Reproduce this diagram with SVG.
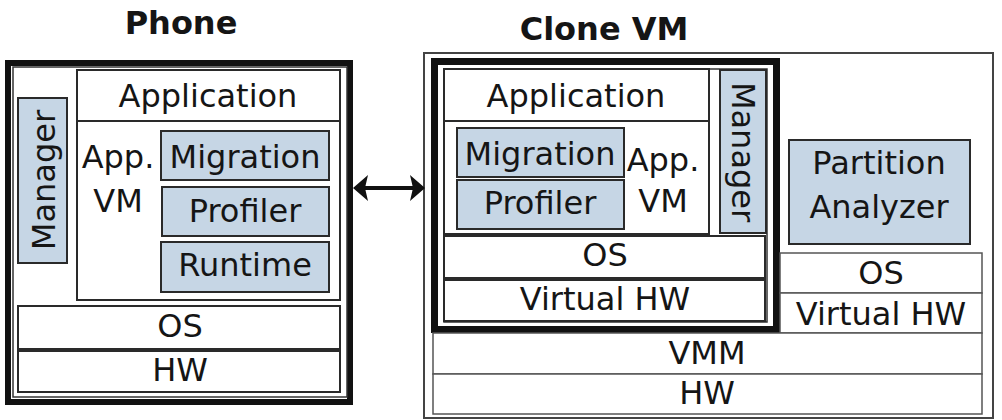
<svg xmlns="http://www.w3.org/2000/svg" width="1002" height="420" viewBox="0 0 1002 420">
<style>
text{font-family:"DejaVu Sans","Liberation Sans",sans-serif;font-size:32px;fill:#151515;text-anchor:middle}
.title{font-weight:bold}
.box{fill:#fff;stroke:#2a2a2a;stroke-width:2}
.lite{fill:#fff;stroke:#555;stroke-width:1.5}
.blue{fill:#c6d6e5;stroke:#2a2a2a;stroke-width:2}
.thick{fill:none;stroke:#111;stroke-width:6}
</style>
<rect width="1002" height="420" fill="#fff"/>
<text class="title" x="181" y="34">Phone</text>
<text class="title" x="604" y="40">Clone VM</text>

<g id="phone">
<rect x="8" y="63" width="342" height="339" class="thick"/>
<rect x="13" y="67" width="334" height="330" fill="none" stroke="#333" stroke-width="1.5"/>
</g>
<g id="phone-manager">
<rect class="blue" x="18" y="98" width="49" height="165"/>
<text transform="translate(55,180) rotate(-90)">Manager</text>
</g>
<g id="phone-application">
<rect class="box" x="77" y="70" width="263" height="51"/>
<text x="208" y="107">Application</text>
</g>
<g id="phone-appvm">
<rect class="box" x="77" y="121" width="263" height="179"/>
<text x="118" y="168">App.</text>
<text x="118" y="212">VM</text>
</g>
<g id="phone-migration">
<rect class="blue" x="161" y="131" width="168" height="49"/>
<text x="245" y="168">Migration</text>
</g>
<g id="phone-profiler">
<rect class="blue" x="162" y="187" width="167" height="49"/>
<text x="245" y="222">Profiler</text>
</g>
<g id="phone-runtime">
<rect class="blue" x="161" y="242" width="168" height="50"/>
<text x="245" y="276">Runtime</text>
</g>
<g id="phone-os">
<rect class="box" x="18" y="306" width="322" height="43"/>
<text x="180" y="337">OS</text>
</g>
<g id="phone-hw">
<rect class="box" x="18" y="351" width="322" height="41"/>
<text x="180" y="381">HW</text>
</g>

<g id="clone-host">
<rect x="424" y="53" width="569" height="365" fill="none" stroke="#444" stroke-width="2"/>
</g>
<g id="clone-vm">
<rect x="434.5" y="61.5" width="342" height="268" fill="none" stroke="#111" stroke-width="7"/>
<rect x="444" y="69" width="323" height="253" fill="none" stroke="#333" stroke-width="1.5"/>
</g>
<g id="clone-application">
<rect class="box" x="444" y="69" width="265" height="52"/>
<text x="576" y="107">Application</text>
</g>
<g id="clone-appvm">
<rect class="box" x="444" y="121" width="265" height="113"/>
<text x="663" y="171">App.</text>
<text x="663" y="212">VM</text>
</g>
<g id="clone-migration">
<rect class="blue" x="457" y="128" width="167" height="49"/>
<text x="540" y="165">Migration</text>
</g>
<g id="clone-profiler">
<rect class="blue" x="457" y="180" width="167" height="49"/>
<text x="540" y="214">Profiler</text>
</g>
<g id="clone-manager">
<rect class="blue" x="720" y="70" width="46" height="163"/>
<text transform="translate(732,152) rotate(90)">Manager</text>
</g>
<g id="clone-os">
<rect class="box" x="444" y="236" width="321" height="42"/>
<text x="605" y="266">OS</text>
</g>
<g id="clone-virtualhw">
<rect class="box" x="444" y="280" width="321" height="41"/>
<text x="605" y="310">Virtual HW</text>
</g>
<g id="partition-analyzer">
<rect class="blue" x="789" y="140" width="181" height="104"/>
<text x="879" y="174">Partition</text>
<text x="879" y="218">Analyzer</text>
</g>
<g id="host-os">
<rect class="lite" x="780" y="253" width="202" height="40"/>
<text x="881" y="284">OS</text>
</g>
<g id="host-virtualhw">
<rect class="lite" x="780" y="293" width="202" height="40"/>
<text x="881" y="325">Virtual HW</text>
</g>
<g id="vmm">
<rect class="lite" x="433" y="333" width="549" height="41"/>
<text x="707" y="364">VMM</text>
</g>
<g id="host-hw">
<rect class="lite" x="433" y="374" width="549" height="40"/>
<text x="707" y="404">HW</text>
</g>

<g id="connectors">
<line x1="362" y1="188" x2="416" y2="188" stroke="#111" stroke-width="4"/>
<path d="M353,188 L368,175 L365,188 L368,201 Z" fill="#111"/>
<path d="M425,188 L410,175 L413,188 L410,201 Z" fill="#111"/>
</g>
</svg>
